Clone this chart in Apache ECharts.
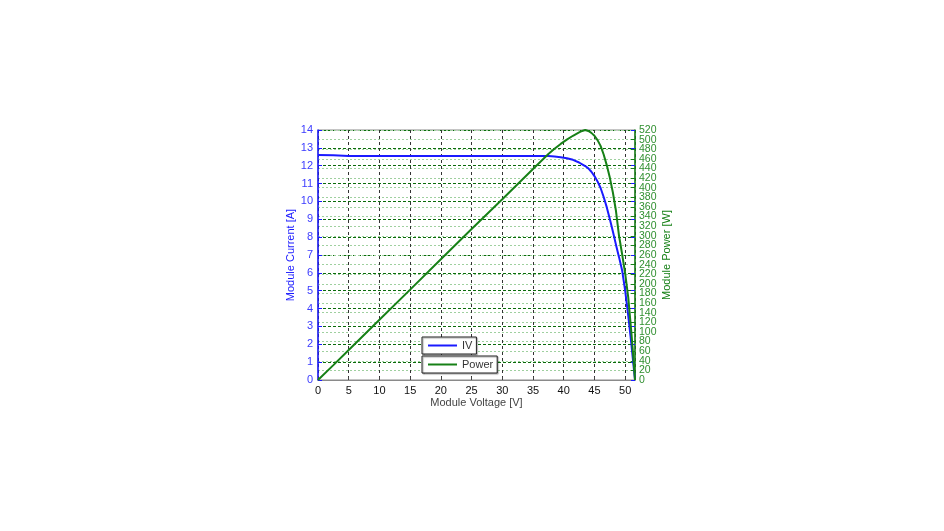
<!DOCTYPE html>
<html>
<head>
<meta charset="utf-8">
<title>Module IV / Power</title>
<script src="https://cdn.jsdelivr.net/npm/echarts@6/dist/echarts.min.js"></script>
<style>
    html, body { margin: 0; padding: 0; background: #fff; }
    #chart { width: 944px; height: 531px; }
</style>
</head>
<body>
<div id="chart"></div>
<script>
    // 电压采样点 [V]
    var voltage = [0, 2.5, 2.6, 5, 10, 15, 20, 25, 30, 35, 37.5, 38.5, 39.5, 40.5, 41.5, 42.5, 43, 43.5, 44, 44.5, 45, 45.5, 46, 46.5, 47, 47.5, 48, 48.5, 49, 49.5, 50, 50.5, 51, 51.3, 51.6];
    // 模块电流 [A]
    var current = [12.6, 12.58, 12.55, 12.55, 12.55, 12.55, 12.55, 12.55, 12.55, 12.55, 12.54, 12.52, 12.48, 12.42, 12.33, 12.18, 12.08, 11.98, 11.85, 11.66, 11.42, 11.12, 10.75, 10.25, 9.68, 9.02, 8.32, 7.58, 6.88, 6.15, 5.0, 3.6, 2.05, 1.02, 0];
    // 模块功率 [W]
    var power = [0, 31, 32.6, 62.5, 125.5, 188, 251, 314, 376, 439, 470, 481, 491, 500, 508, 515, 518, 520, 518, 514, 508, 499, 487, 469, 447, 421, 390, 352, 300, 262, 222, 172, 100, 52, 0];

    var xTicks = { min: 0, max: 51.6, interval: 5 };
    var currentTicks = { min: 0, max: 14, interval: 1 };
    var powerTicks = { min: 0, max: 520, interval: 20 };

    var font = 'Arial, "Liberation Sans", sans-serif';
    var blue = '#1a1aff';
    var green = '#168016';
    var powerLabel = { fontFamily: font, fontSize: 10.5, color: '#2f8f2f', margin: 4 };

    function pairs(xs, ys) {
        var out = [];
        for (var i = 0; i < xs.length; i++) {
            out.push([xs[i], ys[i]]);
        }
        return out;
    }

    function legendBox(name, top) {
        return {
            data: [name],
            left: 422,
            top: top,
            orient: 'horizontal',
            icon: 'rect',
            itemWidth: 29,
            itemHeight: 2,
            padding: [3, 4, 3, 6],
            backgroundColor: '#fff',
            borderColor: '#222',
            borderWidth: 1,
            borderRadius: 0,
            shadowColor: 'rgba(0,0,0,0.35)',
            shadowOffsetX: 1,
            shadowOffsetY: 1,
            shadowBlur: 1,
            selectedMode: false,
            textStyle: { fontFamily: font, fontSize: 11, color: '#333' }
        };
    }

    var option = {
        animation: false,
        grid: {
            left: 318,
            right: 309,
            top: 130,
            bottom: 151,
            show: true,
            borderColor: '#8a8a8a',
            borderWidth: 1
        },
        legend: [legendBox('IV', 337), legendBox('Power', 356)],
        xAxis: {
            type: 'value',
            min: xTicks.min,
            max: xTicks.max,
            interval: xTicks.interval,
            name: 'Module Voltage [V]',
            nameLocation: 'middle',
            nameGap: 17,
            nameTextStyle: { fontFamily: font, fontSize: 11, color: '#444' },
            axisLine: { lineStyle: { color: '#8a8a8a' } },
            axisTick: { inside: true, length: 3, lineStyle: { color: '#444' } },
            axisLabel: {
                fontFamily: font, fontSize: 11, color: '#111', margin: 5,
                showMaxLabel: false
            },
            splitLine: { show: true, lineStyle: { color: '#333', type: [3, 3], width: 1 } }
        },
        yAxis: [
            {
                type: 'value',
                position: 'left',
                min: currentTicks.min,
                max: currentTicks.max,
                interval: currentTicks.interval,
                name: 'Module Current [A]',
                nameLocation: 'middle',
                nameGap: 21,
                nameTextStyle: { fontFamily: font, fontSize: 11, color: blue },
                axisLine: { show: true, lineStyle: { color: blue, width: 1.5 } },
                axisTick: { show: true, inside: true, length: 4, lineStyle: { color: blue } },
                axisLabel: { fontFamily: font, fontSize: 11, color: '#3b3bff', margin: 5 },
                splitLine: { show: true, lineStyle: { color: '#0a6a0a', type: [3, 2], width: 1 } }
            },
            {
                type: 'value',
                position: 'right',
                min: powerTicks.min,
                max: powerTicks.max,
                interval: powerTicks.interval,
                name: 'Module Power [W]',
                nameLocation: 'middle',
                nameGap: 26,
                nameRotate: 90,
                nameTextStyle: { fontFamily: font, fontSize: 11, color: green },
                axisLine: { show: true, lineStyle: { color: green, width: 1.5 } },
                axisTick: { show: true, inside: true, length: 4, lineStyle: { color: green } },
                axisLabel: echarts.util.extend({
                    interval: 0, hideOverlap: false, showMinLabel: false, showMaxLabel: false
                }, powerLabel),
                splitLine: { show: true, lineStyle: { color: '#9fd09f', type: [2, 2], width: 1 } }
            },
            {
                // 右侧镜像电流刻度
                type: 'value',
                position: 'right',
                min: currentTicks.min,
                max: currentTicks.max,
                interval: currentTicks.interval,
                axisLine: { show: false },
                axisTick: { show: true, inside: true, length: 4, lineStyle: { color: blue } },
                axisLabel: { show: false },
                splitLine: { show: false }
            },
            {
                // 功率轴两端标签 0 / 520
                type: 'value',
                position: 'right',
                min: powerTicks.min,
                max: powerTicks.max,
                interval: powerTicks.max,
                axisLine: { show: false },
                axisTick: { show: false },
                axisLabel: echarts.util.extend({ showMinLabel: true, showMaxLabel: true }, powerLabel),
                splitLine: { show: false }
            }
        ],
        series: [
            {
                name: 'IV',
                type: 'line',
                yAxisIndex: 0,
                data: pairs(voltage, current),
                symbol: 'none',
                lineStyle: { color: blue, width: 2 },
                itemStyle: { color: blue },
                z: 3
            },
            {
                name: 'Power',
                type: 'line',
                yAxisIndex: 1,
                data: pairs(voltage, power),
                symbol: 'none',
                lineStyle: { color: green, width: 2 },
                itemStyle: { color: green },
                z: 3
            }
        ]
    };

    var myChart = echarts.init(document.getElementById('chart'));
    myChart.setOption(option);
</script>
</body>
</html>
